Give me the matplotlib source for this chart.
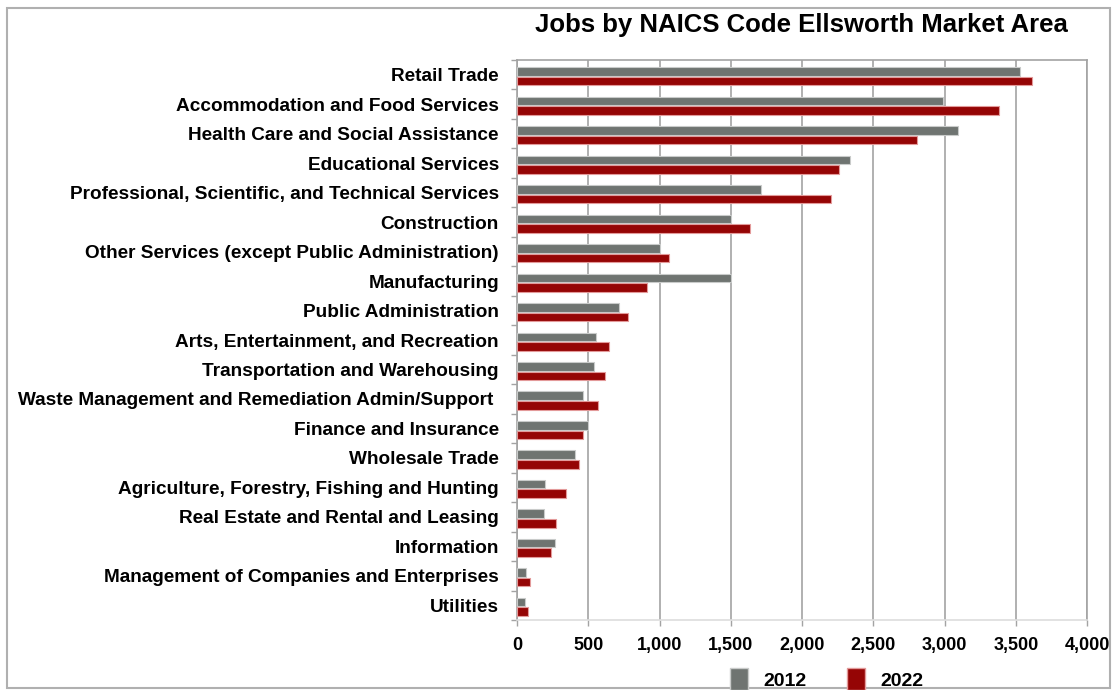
import numpy as np
import matplotlib
matplotlib.use("Agg")
import matplotlib.pyplot as plt
from matplotlib.patches import Rectangle, Patch

plt.rcParams['font.family'] = ['Liberation Sans', 'DejaVu Sans']

# data
categories = [
    'Retail Trade',
    'Accommodation and Food Services',
    'Health Care and Social Assistance',
    'Educational Services',
    'Professional, Scientific, and Technical Services',
    'Construction',
    'Other Services (except Public Administration)',
    'Manufacturing',
    'Public Administration',
    'Arts, Entertainment, and Recreation',
    'Transportation and Warehousing',
    'Waste Management and Remediation Admin/Support ',
    'Finance and Insurance',
    'Wholesale Trade',
    'Agriculture, Forestry, Fishing and Hunting',
    'Real Estate and Rental and Leasing',
    'Information',
    'Management of Companies and Enterprises',
    'Utilities',
]
jobs_2012 = [3530, 2990, 3095, 2340, 1715, 1500, 1005, 1500, 715, 557,
             541, 462, 500, 408, 198, 187, 269, 65, 57]
jobs_2022 = [3617, 3383, 2807, 2260, 2204, 1636, 1065, 910, 777, 647,
             620, 565, 462, 435, 345, 277, 242, 92, 76]
years = ['2012', '2022']
xticks = [0, 500, 1000, 1500, 2000, 2500, 3000, 3500, 4000]

color_2012 = '#6f7471'
color_2022 = '#950505'
grid_col = '#a3a3a3'

fig = plt.figure(figsize=(11.13, 6.90), dpi=100)
ax = fig.add_axes([517/1113, 1 - 620/690, 570/1113, 560/690])

y = np.arange(len(categories))
h = 0.29
ax.barh(y - 0.108, jobs_2012, height=h, color=color_2012,
        edgecolor='#c9cbca', linewidth=0.8, zorder=3)
ax.barh(y + 0.217, jobs_2022, height=h, color=color_2022,
        edgecolor='#e39a9a', linewidth=0.8, zorder=3)

ax.set_ylim(len(categories) - 0.5, -0.5)
ax.set_xlim(0, 4000)

ax.set_yticks(y)
ax.set_yticklabels(categories, fontsize=13.7, fontweight='bold')
ax.set_yticks(np.arange(len(categories) + 1) - 0.5, minor=True)
ax.tick_params(axis='y', which='major', length=0, pad=13)
ax.tick_params(axis='y', which='minor', length=4, color=grid_col, width=1)

ax.set_xticks(xticks)
ax.set_xticklabels(['{:,}'.format(v) for v in xticks], fontsize=13,
                   fontweight='bold')
ax.tick_params(axis='x', length=4, color=grid_col, width=1, pad=8)

ax.grid(axis='x', color=grid_col, linewidth=1.2, zorder=0)
ax.set_axisbelow(True)

for s in ['left', 'top', 'right', 'bottom']:
    ax.spines[s].set_color(grid_col)
    ax.spines[s].set_linewidth(1.2)
ax.spines['bottom'].set_color('#dddddd')

fig.text(801/1113, 1 - 25/690, 'Jobs by NAICS Code Ellsworth Market Area',
         ha='center', va='center', fontsize=18.5, fontweight='bold')

handles = [Patch(facecolor=color_2012, edgecolor='#c9cbca'),
           Patch(facecolor=color_2022, edgecolor='#e39a9a')]
fig.legend(handles, years, loc='center', bbox_to_anchor=(827/1113, 1 - 679/690),
           ncol=2, frameon=False, handlelength=0.9, handleheight=1.3,
           columnspacing=2.1, handletextpad=0.8,
           prop={'size': 14, 'weight': 'bold'})

# outer frame
fig.patches.append(Rectangle((7/1113, 2/690), 1103/1113, 680/690,
                             transform=fig.transFigure, fill=False,
                             edgecolor='#b0b0b0', linewidth=1.5))

fig.savefig('out.png', dpi=100)
